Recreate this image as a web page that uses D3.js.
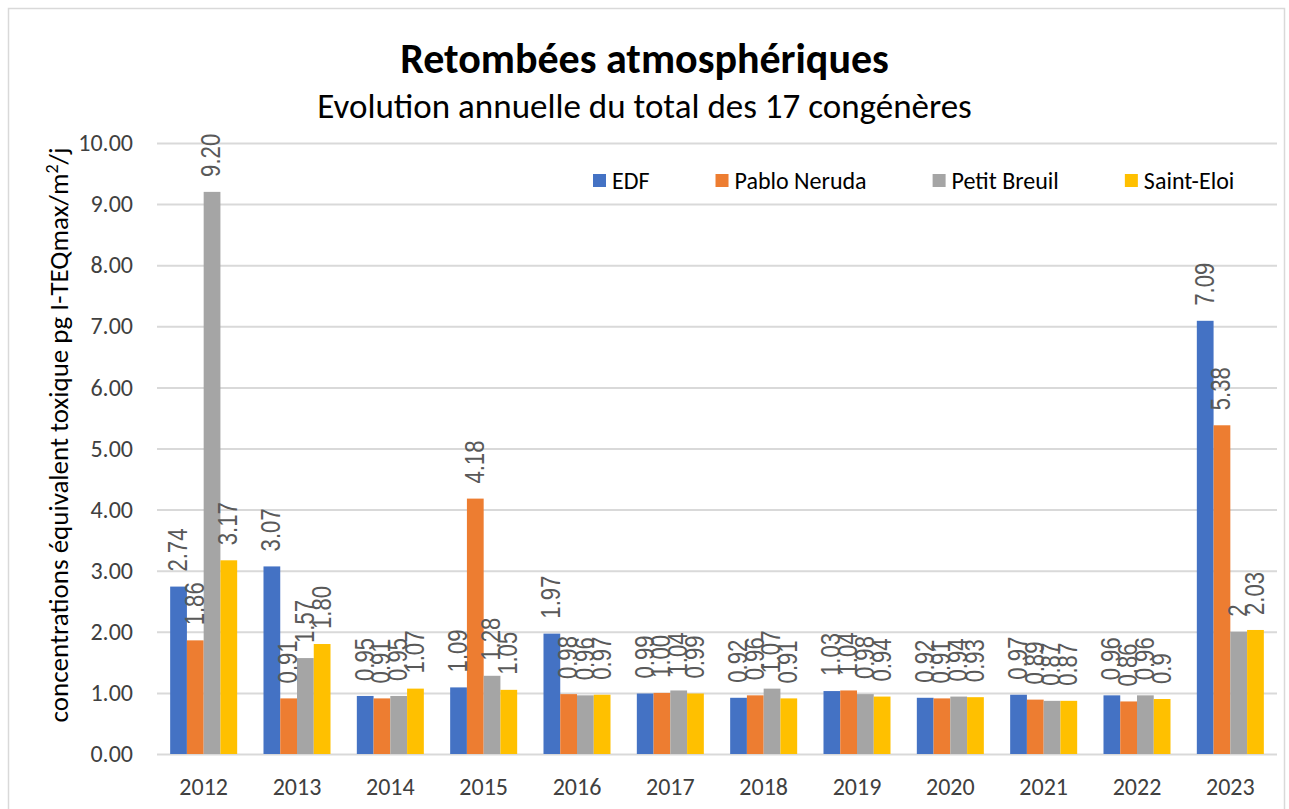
<!DOCTYPE html>
<html lang="fr">
<head>
    <meta charset="UTF-8">
    <title>Retombées atmosphériques</title>
    <script src="https://d3js.org/d3.v7.min.js"></script>
    <style>
        body { margin: 0; background: #fff; font-family: Carlito, Lato, sans-serif; }
        svg { display: block; }
    </style>
</head>
<body>
    <svg width="1289" height="809"></svg>
    <script>
        // données
        const years = ["2012", "2013", "2014", "2015", "2016", "2017", "2018", "2019", "2020", "2021", "2022", "2023"];
        const seriesNames = ["EDF", "Pablo Neruda", "Petit Breuil", "Saint-Eloi"];
        const edf = ["2.74", "3.07", "0.95", "1.09", "1.97", "0.99", "0.92", "1.03", "0.92", "0.97", "0.96", "7.09"];
        const pabloNeruda = ["1.86", "0.91", "0.91", "4.18", "0.98", "1.00", "0.96", "1.04", "0.91", "0.89", "0.86", "5.38"];
        const petitBreuil = ["9.20", "1.57", "0.95", "1.28", "0.96", "1.04", "1.07", "0.98", "0.94", "0.87", "0.96", "2"];
        const saintEloi = ["3.17", "1.80", "1.07", "1.05", "0.97", "0.99", "0.91", "0.94", "0.93", "0.87", "0.9", "2.03"];
        const yTicks = [0, 1, 2, 3, 4, 5, 6, 7, 8, 9, 10];
        const colors = ["#4472C4", "#ED7D31", "#A5A5A5", "#FFC000"];

        const seriesValues = [edf, pabloNeruda, petitBreuil, saintEloi];
        const data = years.map((yr, i) => ({
            year: yr,
            values: seriesNames.map((s, k) => ({ name: s, label: seriesValues[k][i], value: +seriesValues[k][i] }))
        }));

        const svg = d3.select("svg");
        const W = 1289, H = 809;
        const plot = { left: 157, right: 1277, top: 143, bottom: 754 };

        // cadre
        svg.append("rect")
            .attr("x", 8.5).attr("y", 8.5)
            .attr("width", 1276).attr("height", 810)
            .attr("fill", "#fff")
            .attr("stroke", "#d9d9d9").attr("stroke-width", 1.5);

        const x0 = d3.scaleBand().domain(years).range([plot.left, plot.right]).paddingInner(0.282).paddingOuter(0.141);
        const x1 = d3.scaleBand().domain(seriesNames).range([0, x0.bandwidth()]);
        const y = d3.scaleLinear().domain([0, 10]).range([plot.bottom, plot.top]);
        const color = d3.scaleOrdinal().domain(seriesNames).range(colors);

        // grille + axe Y
        const yAxis = svg.append("g")
            .attr("transform", `translate(${plot.left},0)`)
            .call(d3.axisLeft(y).tickValues(yTicks).tickSize(-(plot.right - plot.left)).tickPadding(24).tickFormat(d3.format(".2f")));
        yAxis.select(".domain").remove();
        yAxis.selectAll(".tick line").attr("stroke", "#d9d9d9").attr("stroke-width", 2);
        yAxis.selectAll(".tick text")
            .attr("fill", "#404040")
            .style("font-size", "24px")
            .style("font-family", "Carlito, Lato, sans-serif");

        // axe X
        const xAxis = svg.append("g")
            .attr("transform", `translate(0,${plot.bottom})`)
            .call(d3.axisBottom(x0).tickSize(0).tickPadding(24));
        xAxis.select(".domain").remove();
        xAxis.selectAll(".tick text")
            .attr("fill", "#404040")
            .style("font-size", "24px")
            .style("font-family", "Carlito, Lato, sans-serif");

        // barres
        const groups = svg.append("g").selectAll("g")
            .data(data)
            .join("g")
            .attr("transform", d => `translate(${x0(d.year)},0)`);

        groups.selectAll("rect")
            .data(d => d.values)
            .join("rect")
            .attr("x", d => x1(d.name))
            .attr("y", d => y(d.value))
            .attr("width", x1.bandwidth())
            .attr("height", d => plot.bottom - y(d.value))
            .attr("fill", d => color(d.name));

        // étiquettes de données verticales
        groups.selectAll("text")
            .data(d => d.values)
            .join("text")
            .attr("transform", d => `translate(${x1(d.name) + x1.bandwidth()},${y(d.value) - 15}) rotate(-90) scale(0.82,1)`)
            .attr("text-anchor", "start")
            .attr("fill", "#595959")
            .style("font-family", "'Liberation Sans', Arial, sans-serif")
            .style("font-size", "27px")
            .text(d => d.label);

        // titres
        svg.append("text")
            .attr("x", W / 2).attr("y", 73)
            .attr("text-anchor", "middle")
            .style("font-size", "42px").style("font-weight", "bold")
            .attr("fill", "#000")
            .text("Retombées atmosphériques");
        svg.append("text")
            .attr("x", W / 2).attr("y", 118)
            .attr("text-anchor", "middle")
            .style("font-size", "35px")
            .attr("fill", "#000")
            .text("Evolution annuelle du total des 17 congénères");

        // titre axe Y
        const yLab = svg.append("text")
            .attr("transform", `translate(68,435) rotate(-90)`)
            .attr("text-anchor", "middle")
            .style("font-size", "27px")
            .attr("fill", "#000");
        yLab.append("tspan").text("concentrations équivalent toxique pg I-TEQmax/m");
        yLab.append("tspan").attr("dy", -10).style("font-size", "18px").text("2");
        yLab.append("tspan").attr("dy", 10).text("/j");

        // légende
        const legend = svg.append("g");
        let lx = 593;
        seriesNames.forEach((s, k) => {
            const g = legend.append("g").attr("transform", `translate(${lx},0)`);
            g.append("rect").attr("x", 0).attr("y", 174).attr("width", 13).attr("height", 13).attr("fill", colors[k]);
            const t = g.append("text").attr("x", 19).attr("y", 189)
                .style("font-size", "24px").attr("fill", "#000").text(s);
            lx += 19 + t.node().getComputedTextLength() + 66;
        });
    </script>
</body>
</html>
